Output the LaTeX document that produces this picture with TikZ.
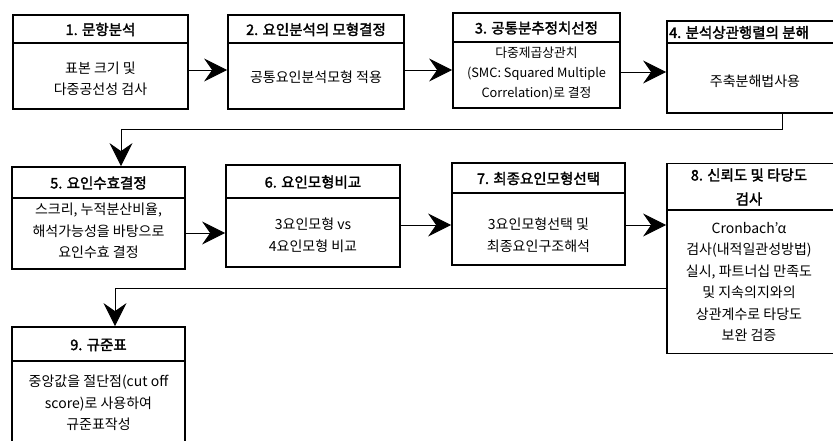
\documentclass[tikz,border=0pt]{standalone}
\usepackage{fontspec}
\setmainfont[AutoFakeBold=2]{Noto Sans CJK KR}
\usetikzlibrary{arrows.meta}
\begin{document}
\begin{tikzpicture}[x=1pt,y=-1pt,
  boxline/.style={draw=black,line width=1.8pt},
  ttl/.style={font=\fontsize{14.5}{17}\selectfont\bfseries,align=center,inner sep=0pt},
  bdy/.style={font=\fontsize{14}{21.5}\selectfont,align=center,inner sep=0pt},
  conn/.style={draw=black,line width=0.9pt,-{Stealth[length=23pt,width=23pt,inset=8pt]}},
  plain/.style={draw=black,line width=0.9pt}]
\useasboundingbox (0,0) rectangle (833,441);
\clip (0,0) rectangle (833,441);
% boxes
\node[boxline,minimum width=175pt,minimum height=94pt,inner sep=0pt] (b1) at (100.5,62) {};
\node[boxline,minimum width=176pt,minimum height=94pt,inner sep=0pt] (b2) at (316,62) {};
\node[boxline,minimum width=167pt,minimum height=95pt,inner sep=0pt] (b3) at (536.5,60.5) {};
\node[boxline,minimum width=176pt,minimum height=92pt,inner sep=0pt] (b4) at (755,67) {};
\node[boxline,minimum width=173pt,minimum height=102pt,inner sep=0pt] (b5) at (98.5,218) {};
\node[boxline,minimum width=174pt,minimum height=102pt,inner sep=0pt] (b6) at (313,216) {};
\node[boxline,minimum width=173pt,minimum height=102pt,inner sep=0pt] (b7) at (538.5,214) {};
\node[boxline,minimum width=172pt,minimum height=190pt,inner sep=0pt] (b8) at (753,258.5) {};
\node[boxline,minimum width=173pt,minimum height=140pt,inner sep=0pt] (b9) at (98.5,397) {};
% dividers
\draw[boxline] (b1.west |- 0,43) -- (b1.east |- 0,43);
\draw[boxline] (b2.west |- 0,43) -- (b2.east |- 0,43);
\draw[boxline] (b3.west |- 0,42) -- (b3.east |- 0,42);
\draw[boxline] (b4.west |- 0,43) -- (b4.east |- 0,43);
\draw[boxline] (b5.west |- 0,198) -- (b5.east |- 0,198);
\draw[boxline] (b6.west |- 0,198) -- (b6.east |- 0,198);
\draw[boxline] (b7.west |- 0,193) -- (b7.east |- 0,193);
\draw[boxline] (b8.west |- 0,210) -- (b8.east |- 0,210);
\draw[boxline] (b9.west |- 0,361) -- (b9.east |- 0,361);
% titles
\node[ttl] (t1) at (100.5,29.5) {1. 문항분석};
\node[ttl] (t2) at (316,29.5) {2. 요인분석의 모형결정};
\node[ttl] (t3) at (536.5,28) {3. 공통분추정치선정};
\node[ttl,anchor=west] (t4) at (669,32.5) {4. 분석상관행렬의 분해};
\node[ttl] (t5) at (98.5,183) {5. 요인수효결정};
\node[ttl] (t6) at (313,182) {6. 요인모형비교};
\node[ttl] (t7) at (538.5,178.5) {7. 최종요인모형선택};
\node[ttl,font=\fontsize{14.5}{24}\selectfont\bfseries] (t8) at (749,187) {8. 신뢰도 및 타당도\\검사};
\node[ttl] (t9) at (98.5,345) {9. 규준표};
% bodies
\node[bdy] (d1) at (100.5,79) {표본 크기 및\\다중공선성 검사};
\node[bdy] (d2) at (316,77) {공통요인분석모형 적용};
\node[bdy,font=\fontsize{12.8}{20}\selectfont] (d3) at (536.5,73) {다중제곱상관치\\(SMC: Squared Multiple\\Correlation)로 결정};
\node[bdy] (d4) at (755,81) {주축분해법사용};
\node[bdy] (d5) at (98.5,231) {스크리, 누적분산비율,\\해석가능성을 바탕으로\\요인수효 결정};
\node[bdy] (d6) at (313,235) {3요인모형 vs\\4요인모형 비교};
\node[bdy] (d7) at (538.5,235) {3요인모형선택 및\\최종요인구조해석};
\node[bdy] (d8) at (749,282) {Cronbach'α\\검사(내적일관성방법)\\실시, 파트너십 만족도\\및 지속의지와의\\상관계수로 타당도\\보완 검증};
\node[bdy] (d9) at (98.5,403) {중앙값을 절단점(cut off\\score)로 사용하여\\규준표작성};
% connectors
\draw[conn] (b1.east |- 0,70) -- (b2.west |- 0,70);
\draw[conn] (b2.east |- 0,70) -- (b3.west |- 0,70);
\draw[conn] (b3.east |- 0,72) -- (b4.west |- 0,72);
\coordinate (c4a) at (782,129);
\coordinate (c4b) at (121,129);
\draw[plain] (b4.south -| c4a) -- (c4a) -- (c4b);
\draw[conn] (c4b) -- (c4b |- b5.north);
\draw[conn] (b5.east |- 0,233) -- (b6.west |- 0,233);
\draw[conn] (b6.east |- 0,225) -- (b7.west |- 0,225);
\draw[conn] (b7.east |- 0,225) -- (b8.west |- 0,225);
\coordinate (c8a) at (115,288);
\draw[plain] (b8.west |- c8a) -- (c8a);
\draw[conn] (c8a) -- (c8a |- b9.north);
\end{tikzpicture}
\end{document}
